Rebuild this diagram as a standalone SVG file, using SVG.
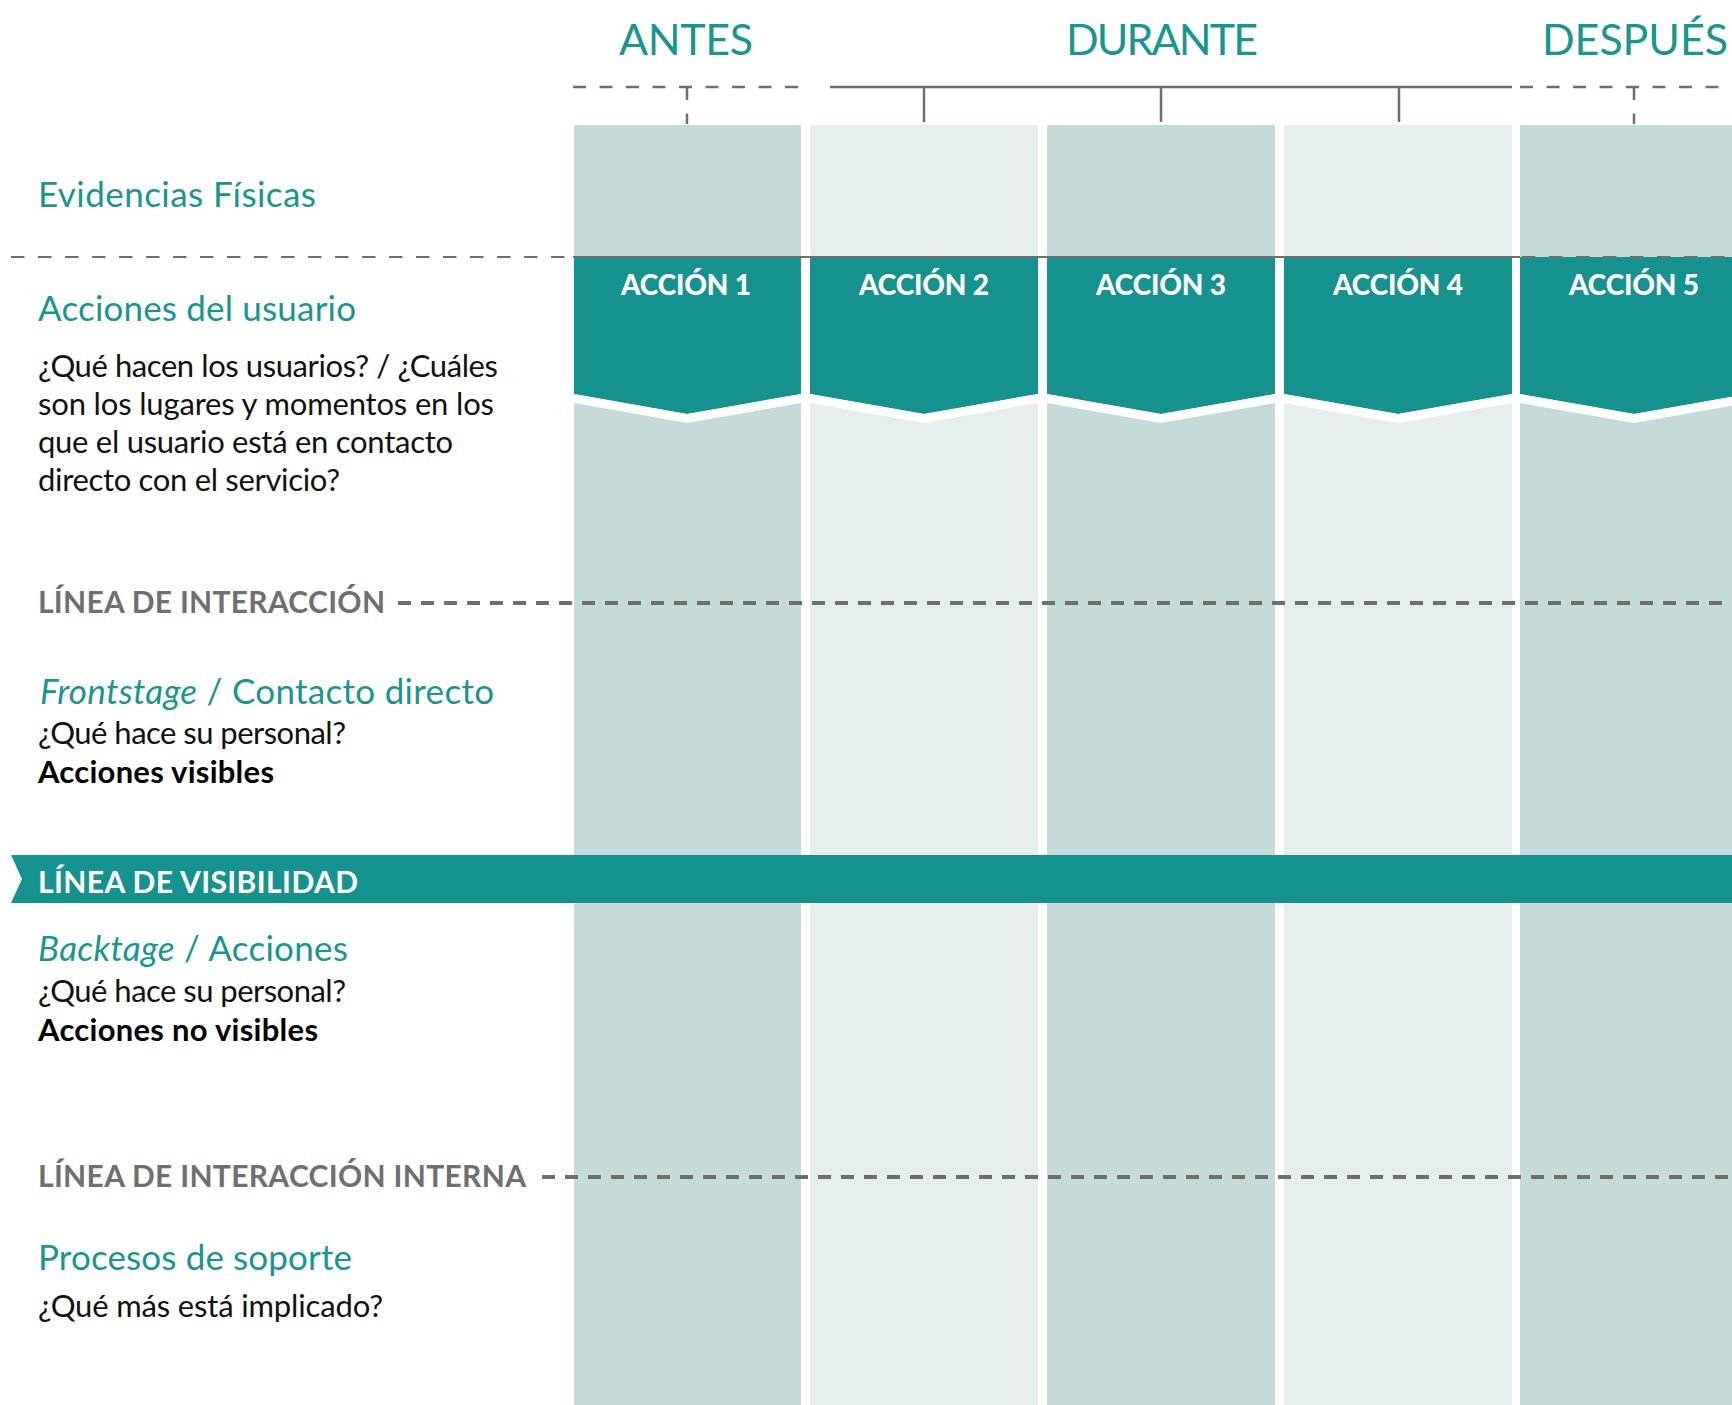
<svg xmlns="http://www.w3.org/2000/svg" width="1732" height="1405" viewBox="0 0 1732 1405">
  <style>
    text { font-family: Lato, "Liberation Sans", sans-serif; }
    .hdr { font-size: 43px; fill: #199590; }
    .teal { font-size: 35px; fill: #199590; }
    .body { font-size: 31px; fill: #111111; }
    .bold { font-size: 31px; fill: #000000; font-weight: 700; }
    .act { font-size: 28px; fill: #ffffff; font-weight: 900; }
    .line { font-size: 30px; fill: #6d6f71; font-weight: 700; }
    .vis { font-size: 30px; fill: #ffffff; font-weight: 700; }
    .it { font-style: italic; }
    .colA { fill: #c5dbd9; }
    .colB { fill: #e6eded; }
    .chev { fill: #16928e; }
    .gap { fill: #ffffff; }
    .tl { stroke: #6d6e70; stroke-width: 2.5; fill: none; }
    .tld { stroke: #6d6e70; stroke-width: 2.5; fill: none; stroke-dasharray: 13 13.5; }
    .thin { stroke: #6d6e70; stroke-width: 2; fill: none; }
    .thind { stroke: #6d6e70; stroke-width: 2; fill: none; stroke-dasharray: 13.5 13.5; }
    .thick { stroke: #6d6e70; stroke-width: 4; fill: none; stroke-dasharray: 13 10; }
  </style>

  <g id="columns">
    <rect class="colA" x="574" y="125" width="227" height="1280"/>
    <rect class="colB" x="810" y="125" width="228" height="1280"/>
    <rect class="colA" x="1047" y="125" width="228" height="1280"/>
    <rect class="colB" x="1284" y="125" width="228" height="1280"/>
    <rect class="colA" x="1520" y="125" width="228" height="1280"/>
  </g>

  <g id="phases">
    <text class="hdr" x="619" y="55" textLength="134">ANTES</text>
    <text class="hdr" x="1066" y="55" textLength="192">DURANTE</text>
    <text class="hdr" x="1542" y="55" textLength="186">DESPUÉS</text>
  </g>

  <g id="connectors">
    <line class="tld" x1="573" y1="87" x2="801" y2="87"/>
    <line class="tl" x1="830" y1="87" x2="1512" y2="87"/>
    <line class="tld" x1="1520" y1="87" x2="1732" y2="87"/>
    <line class="tld" x1="687" y1="87" x2="687" y2="124"/>
    <line class="tl" x1="924" y1="87" x2="924" y2="122"/>
    <line class="tl" x1="1161" y1="87" x2="1161" y2="122"/>
    <line class="tl" x1="1399" y1="87" x2="1399" y2="122"/>
    <line class="tld" x1="1634" y1="87" x2="1634" y2="124"/>
  </g>

  <g id="accion-1">
    <polygon class="chev" points="574,257 801,257 801,394 687,414 574,394"/>
    <polygon class="gap" points="574,394 687,414 801,394 801,403 687,423 574,403"/>
    <text class="act" x="621" y="295" textLength="130">ACCIÓN 1</text>
  </g>
  <g id="accion-2">
    <polygon class="chev" points="810,257 1038,257 1038,394 924,414 810,394"/>
    <polygon class="gap" points="810,394 924,414 1038,394 1038,403 924,423 810,403"/>
    <text class="act" x="859" y="295" textLength="130">ACCIÓN 2</text>
  </g>
  <g id="accion-3">
    <polygon class="chev" points="1047,257 1275,257 1275,394 1161,414 1047,394"/>
    <polygon class="gap" points="1047,394 1161,414 1275,394 1275,403 1161,423 1047,403"/>
    <text class="act" x="1096" y="295" textLength="130">ACCIÓN 3</text>
  </g>
  <g id="accion-4">
    <polygon class="chev" points="1284,257 1512,257 1512,394 1398,414 1284,394"/>
    <polygon class="gap" points="1284,394 1398,414 1512,394 1512,403 1398,423 1284,403"/>
    <text class="act" x="1333" y="295" textLength="130">ACCIÓN 4</text>
  </g>
  <g id="accion-5">
    <polygon class="chev" points="1520,257 1748,257 1748,394 1634,414 1520,394"/>
    <polygon class="gap" points="1520,394 1634,414 1748,394 1748,403 1634,423 1520,403"/>
    <text class="act" x="1569" y="295" textLength="130">ACCIÓN 5</text>
  </g>

  <g id="separators">
    <line class="thind" x1="11" y1="257" x2="573" y2="257"/>
    <line class="thin" x1="573" y1="257" x2="1520" y2="257"/>
    <line class="thind" x1="1522" y1="257" x2="1732" y2="257"/>
  </g>

  <g id="evidencias">
    <text class="teal" x="38" y="207" textLength="278">Evidencias Físicas</text>
  </g>

  <g id="acciones-usuario">
    <text class="teal" x="38" y="321" textLength="318">Acciones del usuario</text>
    <text class="body" x="38" y="377" textLength="460">¿Qué hacen los usuarios? / ¿Cuáles</text>
    <text class="body" x="38" y="415" textLength="456">son los lugares y momentos en los</text>
    <text class="body" x="38" y="453" textLength="415">que el usuario está en contacto</text>
    <text class="body" x="38" y="491" textLength="302">directo con el servicio?</text>
  </g>

  <g id="linea-interaccion">
    <text class="line" x="38" y="613" textLength="347">LÍNEA DE INTERACCIÓN</text>
    <line class="thick" x1="398" y1="603" x2="1732" y2="603"/>
  </g>

  <g id="frontstage">
    <text class="teal" x="40" y="704" textLength="454"><tspan class="it">Frontstage</tspan> / Contacto directo</text>
    <text class="body" x="38" y="744" textLength="308">¿Qué hace su personal?</text>
    <text class="bold" x="38" y="783" textLength="236">Acciones visibles</text>
  </g>

  <g id="linea-visibilidad">
    <polygon class="chev" points="11,855 1732,855 1732,903 11,903 22,879"/>
    <text class="vis" x="38" y="893" textLength="320">LÍNEA DE VISIBILIDAD</text>
  </g>

  <g id="backstage">
    <text class="teal" x="38" y="961" textLength="310"><tspan class="it">Backtage</tspan> / Acciones</text>
    <text class="body" x="38" y="1002" textLength="308">¿Qué hace su personal?</text>
    <text class="bold" x="38" y="1041" textLength="280">Acciones no visibles</text>
  </g>

  <g id="linea-interaccion-interna">
    <text class="line" x="38" y="1187" textLength="488">LÍNEA DE INTERACCIÓN INTERNA</text>
    <line class="thick" x1="542" y1="1177" x2="1732" y2="1177"/>
  </g>

  <g id="soporte">
    <text class="teal" x="38" y="1270" textLength="314">Procesos de soporte</text>
    <text class="body" x="38" y="1317" textLength="345">¿Qué más está implicado?</text>
  </g>
</svg>
